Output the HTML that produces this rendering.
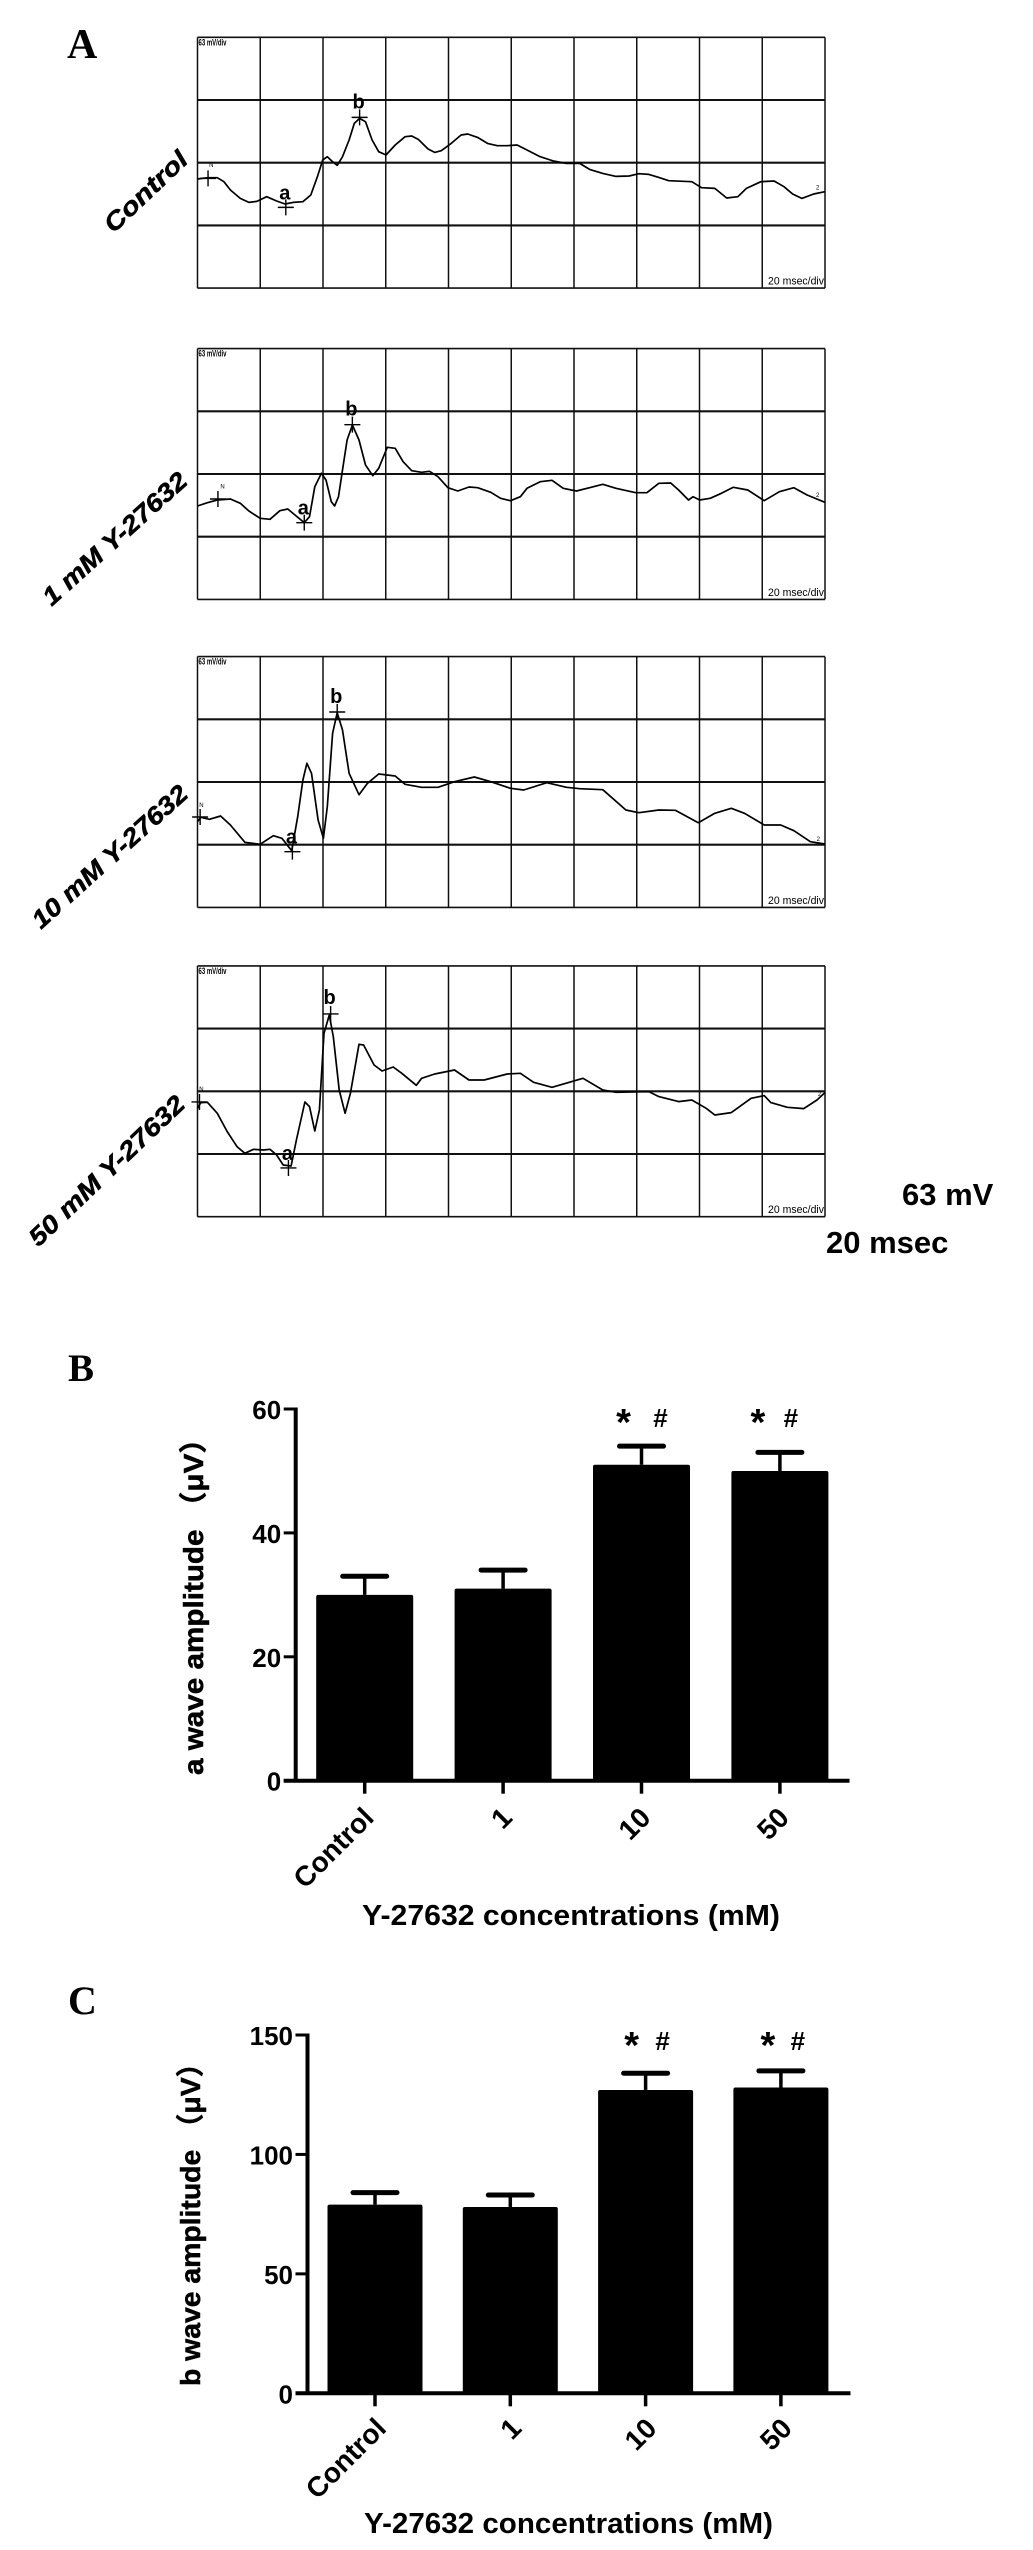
<!DOCTYPE html>
<html lang="en">
<head>
<meta charset="utf-8">
<title>ERG traces and wave amplitudes</title>
<style>
html,body{margin:0;padding:0;background:#fff;}
svg{display:block;}
text{font-family:"Liberation Sans","Noto Sans CJK SC",sans-serif;fill:#000;}
.serif{font-family:"Liberation Serif",serif;font-weight:bold;}
.b{font-weight:bold;}
.heavy{stroke:#000;stroke-width:0.5px;}
</style>
</head>
<body>
<svg id="figure" xmlns="http://www.w3.org/2000/svg" width="1033" height="2550" viewBox="0 0 1033 2550">
  <rect x="0" y="0" width="1033" height="2550" fill="#fff"/>
  <text class="serif" x="67" y="58" font-size="42">A</text>
  <text class="serif" x="68" y="1381" font-size="39">B</text>
  <text class="serif" x="68" y="2014" font-size="40">C</text>

  <text class="b heavy" font-style="italic" font-size="25" text-anchor="middle" dominant-baseline="central" textLength="105" lengthAdjust="spacingAndGlyphs" transform="translate(146 192) rotate(-43.6)">Control</text>
  <text class="b heavy" font-style="italic" font-size="25" text-anchor="middle" dominant-baseline="central" textLength="185" lengthAdjust="spacingAndGlyphs" transform="translate(115 539) rotate(-42)">1 mM Y-27632</text>
  <text class="b heavy" font-style="italic" font-size="25" text-anchor="middle" dominant-baseline="central" textLength="200" lengthAdjust="spacingAndGlyphs" transform="translate(110 857) rotate(-42)">10 mM Y-27632</text>
  <text class="b heavy" font-style="italic" font-size="25" text-anchor="middle" dominant-baseline="central" textLength="205" lengthAdjust="spacingAndGlyphs" transform="translate(107 1171) rotate(-43.7)">50 mM Y-27632</text>

  <text class="b" x="902" y="1205" font-size="31">63 mV</text>
  <text class="b" x="826" y="1253" font-size="31">20 msec</text>

  <text class="b heavy" font-size="28" textLength="351" lengthAdjust="spacingAndGlyphs" transform="translate(203 1775) rotate(-90)">a wave amplitude （μV）</text>
  <text class="b" x="362" y="1925" font-size="29" textLength="418" lengthAdjust="spacingAndGlyphs">Y-27632 concentrations (mM)</text>
  <text class="b heavy" font-size="28" textLength="337" lengthAdjust="spacingAndGlyphs" transform="translate(200 2386) rotate(-90)">b wave amplitude （μV）</text>
  <text class="b" x="364" y="2533" font-size="29" textLength="409" lengthAdjust="spacingAndGlyphs">Y-27632 concentrations (mM)</text>
</svg>
<script>
// ---- ERG traces: time in recorder samples, voltage in recorder counts from the mid line ----
const controlTime = [0,15,30,40,50,65,78,90,105,120,133,145,160,172,182,190,197,205,212,220,230,238,246,255,265,275,286,300,315,325,335,350,360,370,385,400,410,425,440,455,470,485,500,520,540,560,580,595,615,635,655,670,685,700,715,750,765,785,803,820,833,855,875,890,903,917,935,952];
const controlVolts = [-49,-45,-45,-57,-82,-107,-119,-116,-102,-115,-124,-119,-117,-97,-42,8,18,3,-8,18,68,118,133,123,68,33,23,53,78,80,70,41,31,36,58,83,86,76,58,51,51,53,38,18,5,-2,-2,-20,-32,-41,-40,-33,-35,-44,-54,-57,-75,-77,-106,-102,-77,-57,-55,-72,-94,-107,-94,-87];
const dose1Time = [0,15,30,50,65,78,95,110,125,137,148,162,170,178,188,195,203,208,214,220,227,235,245,255,266,275,288,300,312,325,340,352,365,380,395,412,425,445,460,475,490,500,520,538,555,575,595,615,635,665,682,700,718,730,745,752,762,778,795,813,835,860,883,905,925,952];
const dose1Volts = [-96,-86,-78,-75,-88,-111,-133,-136,-110,-105,-123,-146,-128,-38,2,-18,-83,-96,-68,12,102,147,102,27,-5,17,80,77,37,10,5,8,-8,-41,-51,-39,-41,-55,-73,-80,-68,-43,-23,-19,-43,-51,-41,-31,-43,-56,-56,-28,-27,-48,-78,-68,-78,-73,-58,-40,-48,-80,-53,-41,-63,-85];
const dose10Time = [0,5,18,35,50,72,95,115,128,143,152,160,166,173,183,191,197,205,212,220,230,245,258,275,300,315,340,365,390,420,445,475,495,530,560,580,615,650,670,700,725,760,785,810,830,860,885,905,930,952];
const dose10Volts = [-119,-106,-112,-102,-129,-181,-187,-161,-169,-206,-104,6,56,26,-114,-169,-74,146,208,156,26,-38,-4,24,18,-7,-16,-16,1,15,1,-19,-24,-2,-16,-20,-23,-84,-92,-84,-85,-122,-94,-79,-94,-129,-129,-146,-179,-186];
const dose50Time = [0,5,15,30,45,60,72,85,100,110,120,130,142,150,163,170,178,185,192,200,206,215,224,232,245,252,268,280,297,310,332,340,360,390,412,435,470,490,510,538,585,615,635,685,700,730,750,772,785,810,840,860,870,895,920,940,952];
const dose50Volts = [-51,-34,-33,-66,-121,-166,-186,-174,-176,-174,-191,-221,-224,-146,-32,-46,-119,-56,174,229,164,4,-66,-6,141,139,79,61,73,54,18,39,52,64,34,34,52,54,27,12,39,4,-3,-1,-16,-31,-26,-51,-71,-64,-21,-13,-34,-48,-52,-26,-4];

// cursor readings per trace, in order control, 1, 10, 50 mM
const cursorNTime = [16,31,4,3];
const cursorNVolts = [-47,-75,-105,-32];
const cursorATime = [134,162,144,138];
const cursorAVolts = [-134,-146,-209,-230];
const cursorBTime = [246,235,212,202];
const cursorBVolts = [136,148,210,232];
const traceNames = ['control','1mm','10mm','50mm'];

// ---- bar charts ----
const concentrationLabels = ['Control','1','10','50'];
const aWaveMeans = [30,31,51,50];
const aWaveErrors = [3,3,3,3];
const aWaveTicks = [0,20,40,60];
const bWaveMeans = [79,78,127,128];
const bWaveErrors = [5,5,7,7];
const bWaveTicks = [0,50,100,150];
const significantGroups = [2,3];

const NS = 'http://www.w3.org/2000/svg';
const figure = document.getElementById('figure');
function make(tag, attrs, parent, content) {
  const node = document.createElementNS(NS, tag);
  for (const key in attrs) node.setAttribute(key, attrs[key]);
  if (content !== undefined) node.textContent = content;
  parent.appendChild(node);
  return node;
}

// Trace panels
const scopeLeft = 197.5;
const scopeDivX = 62.75;
const scopeDivY = 62.7;
const samplesPerPixelX = 1 / 0.659;
const countsPerPixelY = 3;
const scopeCentres = [162.7, 474, 782, 1091.3];
const traceTimes = [controlTime, dose1Time, dose10Time, dose50Time];
const traceVolts = [controlVolts, dose1Volts, dose10Volts, dose50Volts];
const letterLift = [[15, 16], [15, 16], [15, 16], [15, 17]];
const endMarkTime = [941,941,942,944];
const endMarkVolts = [-75,-63,-171,-8];
const nMarkTime = [21,38,6,6];
const nMarkVolts = [-7,-38,-69,7];

traceNames.forEach(function (name, p) {
  const centre = scopeCentres[p];
  const xScale = function (t) { return scopeLeft + t / samplesPerPixelX; };
  const yScale = function (v) { return centre - v / countsPerPixelY; };
  const group = make('g', {}, figure);
  
  

  for (let i = 0; i <= 10; i++) {
    const vx = scopeLeft + i * scopeDivX;
    const gv = make('line', {x1: vx, x2: vx, y1: centre - 2 * scopeDivY, y2: centre + 2 * scopeDivY, stroke: '#111', 'stroke-width': 1.5}, group);
    
    
  }
  for (let j = -2; j <= 2; j++) {
    const hy = centre + j * scopeDivY;
    const gh = make('line', {x1: scopeLeft, x2: scopeLeft + 10 * scopeDivX, y1: hy, y2: hy, stroke: '#111', 'stroke-width': (j === -2 || j === 2) ? 1.6 : 2.1}, group);
    
    
  }

  const gain = make('text', {x: scopeLeft + 1, y: centre - 2 * scopeDivY + 8, 'font-size': 9, 'font-weight': 'bold', textLength: 28, lengthAdjust: 'spacingAndGlyphs'}, group, '63 mV/div');
  
  
  const sweep = make('text', {x: scopeLeft + 10 * scopeDivX - 57, y: centre + 2 * scopeDivY - 3.5, 'font-size': 11, textLength: 56, lengthAdjust: 'spacingAndGlyphs'}, group, '20 msec/div');
  
  

  const pts = traceTimes[p].map(function (t, i) { return xScale(t).toFixed(1) + ',' + yScale(traceVolts[p][i]).toFixed(1); }).join(' ');
  const trace = make('polyline', {points: pts, fill: 'none', stroke: '#000', 'stroke-width': 1.7, 'stroke-linejoin': 'round'}, group);
  
  

  [[cursorNTime, cursorNVolts], [cursorATime, cursorAVolts], [cursorBTime, cursorBVolts]].forEach(function (c) {
    const cx = xScale(c[0][p]);
    const cy = yScale(c[1][p]);
    const cross = make('path', {d: 'M' + (cx - 8) + ' ' + cy + 'H' + (cx + 8) + 'M' + cx + ' ' + (cy - 8) + 'V' + (cy + 8), stroke: '#000', 'stroke-width': 1.4, fill: 'none'}, group);
    
    
  });

  const aLabel = make('text', {x: xScale(cursorATime[p]) - 1, y: yScale(cursorAVolts[p]) - letterLift[p][0] + 7, 'font-size': 20, 'font-weight': 'bold', 'text-anchor': 'middle'}, group, 'a');
  
  
  const bLabel = make('text', {x: xScale(cursorBTime[p]) - 1, y: yScale(cursorBVolts[p]) - letterLift[p][1] + 7, 'font-size': 20, 'font-weight': 'bold', 'text-anchor': 'middle'}, group, 'b');
  
  

  const nMark = make('text', {x: xScale(nMarkTime[p]), y: yScale(nMarkVolts[p]) + 2, 'font-size': 6, 'text-anchor': 'middle'}, group, 'N');
  
  
  const endMark = make('text', {x: xScale(endMarkTime[p]), y: yScale(endMarkVolts[p]) + 2, 'font-size': 6, 'text-anchor': 'middle'}, group, '2');
  
  
});

// Bar charts
function drawBars(cfg, means, errors, ticks, tickLabels) {
  const maxValue = ticks[ticks.length - 1];
  const yScale = function (v) { return cfg.y0 - v * (cfg.y0 - cfg.yTop) / maxValue; };
  const xScale = function (i) { return cfg.firstX + i * cfg.stepX; };
  const group = make('g', {}, figure);
  
  

  means.forEach(function (m, i) {
    const cx = xScale(i);
    const bar = make('rect', {x: cx - cfg.barW / 2, y: yScale(m), width: cfg.barW, height: cfg.y0 - yScale(m), rx: 2, fill: '#000'}, group);
    
    
    const top = yScale(m + errors[i]);
    const stem = make('line', {x1: cx, x2: cx, y1: top, y2: yScale(m), stroke: '#000', 'stroke-width': 3.5}, group);
    
    
    const cap = make('line', {x1: cx - 22, x2: cx + 22, y1: top, y2: top, stroke: '#000', 'stroke-width': 5, 'stroke-linecap': 'round'}, group);
    
    

    const tick = make('line', {x1: cx, x2: cx, y1: cfg.y0, y2: cfg.y0 + 13, stroke: '#000', 'stroke-width': 3.5}, group);
    
    
    const ex = cx + cfg.labelDx;
    const ey = cfg.y0 + cfg.labelDy;
    const label = make('text', {x: ex, y: ey, 'font-size': 28, 'font-weight': 'bold', 'text-anchor': 'end', 'dominant-baseline': 'central', transform: 'rotate(-45 ' + ex + ' ' + ey + ')'}, group, tickLabels[i]);
    
    
  });

  const yAxis = make('line', {x1: cfg.axisX, x2: cfg.axisX, y1: cfg.yTop - 1.5, y2: cfg.y0, stroke: '#000', 'stroke-width': 4}, group);
  
  
  const xAxis = make('line', {x1: cfg.axisX - 12, x2: cfg.axisEnd, y1: cfg.y0, y2: cfg.y0, stroke: '#000', 'stroke-width': 4}, group);
  
  

  ticks.forEach(function (t) {
    const ty = yScale(t);
    const tick = make('line', {x1: cfg.axisX - 12, x2: cfg.axisX, y1: ty, y2: ty, stroke: '#000', 'stroke-width': 3}, group);
    
    
    const label = make('text', {x: cfg.axisX - 14.5, y: ty + 10, 'font-size': 26, 'font-weight': 'bold', 'text-anchor': 'end'}, group, String(t));
    
    
  });

  significantGroups.forEach(function (g, k) {
    const star = make('text', {x: xScale(g) + cfg.starDx[k], y: cfg.markY + 14, 'font-size': 38, 'font-weight': 'bold', 'text-anchor': 'middle'}, group, '*');
    
    
    const hash = make('text', {x: xScale(g) + cfg.hashDx[k], y: cfg.markY + 6, 'font-size': 26, 'font-weight': 'bold', 'text-anchor': 'middle'}, group, '#');
    
    
  });
}

drawBars({name: 'a-wave-chart', y0: 1780.7, yTop: 1409, axisX: 295.7, axisEnd: 849.5, firstX: 364.7, stepX: 138.4, barW: 97, labelDx: 4, labelDy: 32, markY: 1421, starDx: [-18, -22], hashDx: [19, 11]},
  aWaveMeans, aWaveErrors, aWaveTicks, concentrationLabels);
drawBars({name: 'b-wave-chart', y0: 2393.3, yTop: 2035, axisX: 307.5, axisEnd: 850.5, firstX: 375, stepX: 135.3, barW: 95, labelDx: 6, labelDy: 30, markY: 2044, starDx: [-14, -13], hashDx: [17, 17]},
  bWaveMeans, bWaveErrors, bWaveTicks, concentrationLabels);
</script>
</body>
</html>
